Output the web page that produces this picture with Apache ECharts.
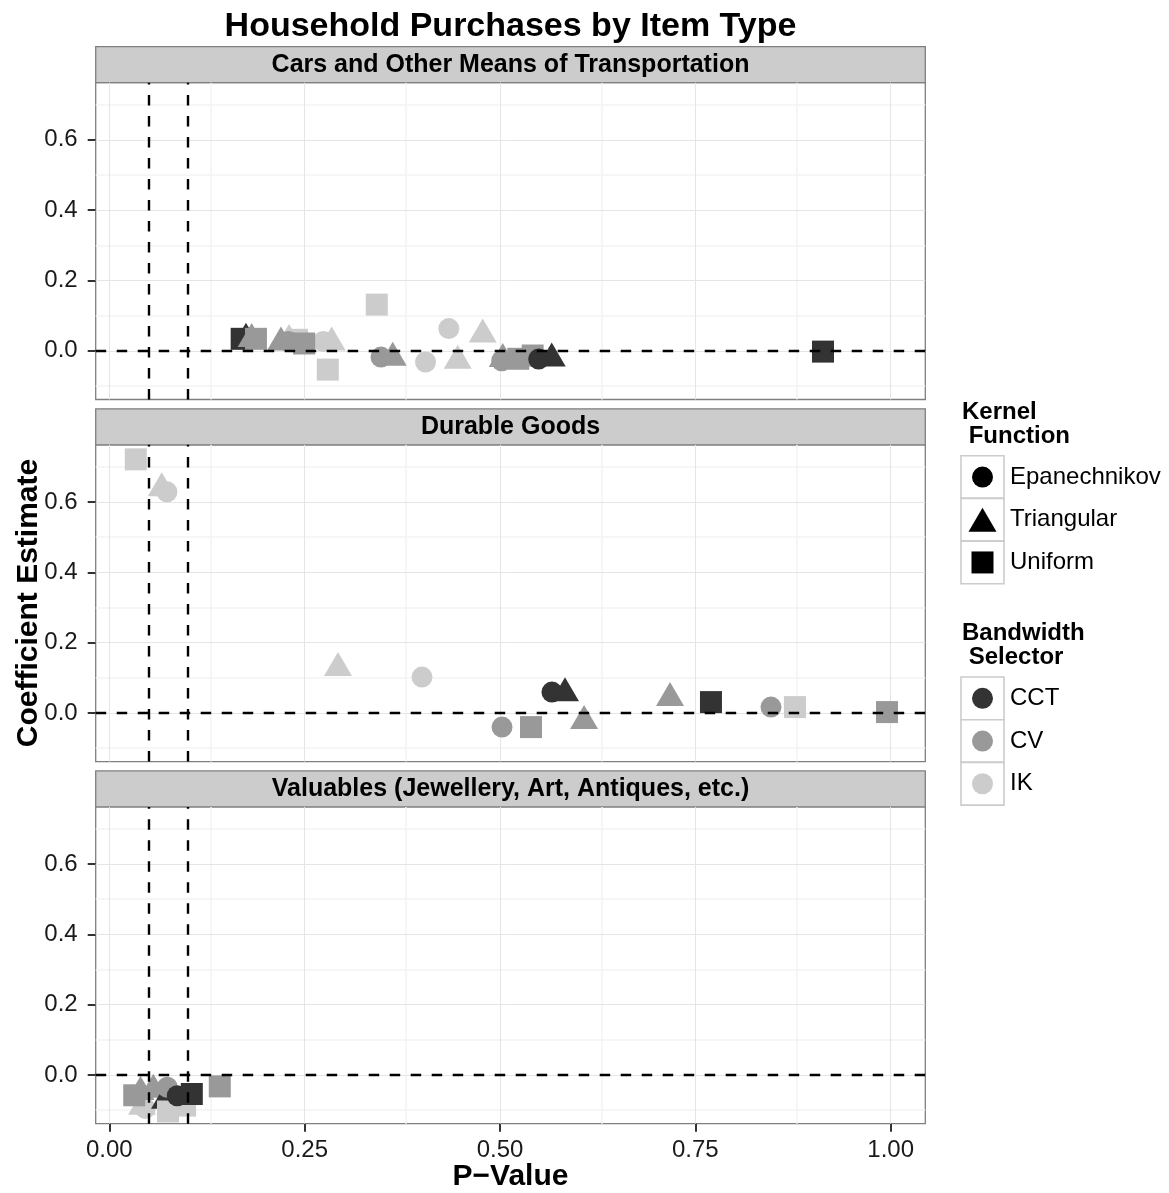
<!DOCTYPE html>
<html>
<head>
<meta charset="utf-8">
<title>Household Purchases by Item Type</title>
<script src="https://cdn.jsdelivr.net/npm/echarts@6/dist/echarts.min.js"></script>
<style>
  html, body { margin: 0; padding: 0; background: #ffffff; }
  #chart { width: 1169px; height: 1193px; }
</style>
</head>
<body>
<div id="chart"></div>
<script>
// ---- data -------------------------------------------------------------
const panelTitles = [
  'Cars and Other Means of Transportation',
  'Durable Goods',
  'Valuables (Jewellery, Art, Antiques, etc.)'
];

const xTickValues = [0, 0.25, 0.5, 0.75, 1];
const xTickLabels = ['0.00', '0.25', '0.50', '0.75', '1.00'];
const yTickValues = [0, 0.2, 0.4, 0.6];
const yTickLabels = ['0.0', '0.2', '0.4', '0.6'];

const kernelNames = ['Epanechnikov', 'Triangular', 'Uniform'];
const selectorNames = ['CCT', 'CV', 'IK'];

// significance thresholds (vertical) and zero effect (horizontal)
const pThresholds = [0.05, 0.1];
const zeroEffect = 0;

// Cars and Other Means of Transportation
const carsP      = [0.1749, 0.1694, 0.1711, 0.1822, 0.1877, 0.2300, 0.2197, 0.2402, 0.2291, 0.2739, 0.2846, 0.2494, 0.2796, 0.3423,
                    0.3477, 0.3627, 0.4047, 0.4459, 0.4345, 0.4779, 0.5035, 0.5022, 0.5234, 0.5418, 0.5495, 0.5662, 0.9134];
const carsCoef   = [0.0341, 0.0341, 0.0341, 0.0333, 0.0341, 0.0304, 0.0236, 0.0313, 0.0264, 0.0264, 0.0236, 0.0208, -0.0535, 0.1314,
                    -0.0179, -0.0199, -0.0318, -0.0284, 0.0631, 0.0463, -0.0236, -0.0284, -0.0227, -0.0134, -0.0236, -0.0219, -0.0023];
const carsKernel = ['T', 'U', 'E', 'T', 'U', 'T', 'T', 'U', 'E', 'E', 'T', 'U', 'U', 'U',
                    'E', 'T', 'E', 'T', 'E', 'T', 'T', 'E', 'U', 'U', 'E', 'T', 'U'];
const carsSel    = ['CCT', 'CCT', 'CCT', 'CV', 'CV', 'IK', 'CV', 'IK', 'CV', 'IK', 'IK', 'CV', 'IK', 'IK',
                    'CV', 'CV', 'IK', 'IK', 'IK', 'IK', 'CV', 'CV', 'CV', 'CV', 'CCT', 'CCT', 'CCT'];

// Durable Goods
const durableP      = [0.0339, 0.0671, 0.0738, 0.2927, 0.4002, 0.5026, 0.5397, 0.5665, 0.5832, 0.6076, 0.7176, 0.7700, 0.8468, 0.8775, 0.9953];
const durableCoef   = [0.7211, 0.6392, 0.6287, 0.1274, 0.1018, -0.0404, -0.0404, 0.0591, 0.0560, -0.0233, 0.0421, 0.0307, 0.0165, 0.0165, 0.0023];
const durableKernel = ['U', 'T', 'E', 'T', 'E', 'E', 'U', 'E', 'T', 'T', 'T', 'U', 'E', 'U', 'U'];
const durableSel    = ['IK', 'IK', 'IK', 'IK', 'IK', 'CV', 'CV', 'CCT', 'CCT', 'CV', 'CV', 'CCT', 'CV', 'IK', 'CV'];

// Valuables (Jewellery, Art, Antiques, etc.)
const valuablesP      = [0.0420, 0.0460, 0.0319, 0.0400, 0.0563, 0.0713, 0.0742, 0.0970, 0.0751, 0.0870, 0.1056, 0.1414];
const valuablesCoef   = [-0.0900, -0.0950, -0.0577, -0.0480, -0.0421, -0.0730, -0.0347, -0.0870, -0.1038, -0.0591, -0.0540, -0.0324];
const valuablesKernel = ['T', 'E', 'U', 'T', 'T', 'T', 'E', 'U', 'U', 'E', 'U', 'U'];
const valuablesSel    = ['IK', 'IK', 'CV', 'CV', 'CV', 'CCT', 'CV', 'IK', 'IK', 'CCT', 'CCT', 'CV'];

// ---- appearance -------------------------------------------------------
const xLimits = [-0.0174, 1.0443];
const yLimits = [-0.1385, 0.7625];
const selectorColor = { CCT: '#333333', CV: '#999999', IK: '#cccccc' };
const kernelCode = { E: 'Epanechnikov', T: 'Triangular', U: 'Uniform' };
const FONT = '"Liberation Sans", Arial, Helvetica, sans-serif';

const plotLeft = 95.7;
const plotWidth = 829.6;
const panelTop = [82.7, 444.8, 806.9];
const panelHeight = 316.8;
const stripHeight = 36;

const panels = [
  { p: carsP, c: carsCoef, k: carsKernel, s: carsSel },
  { p: durableP, c: durableCoef, k: durableKernel, s: durableSel },
  { p: valuablesP, c: valuablesCoef, k: valuablesKernel, s: valuablesSel }
];

function symbolFor(kernel) {
  if (kernel === 'Triangular') return { symbol: 'triangle', symbolSize: [28, 24], symbolOffset: [0, -4] };
  if (kernel === 'Uniform') return { symbol: 'rect', symbolSize: 22, symbolOffset: [0, 0] };
  return { symbol: 'circle', symbolSize: 21, symbolOffset: [0, 0] };
}

function pointItems(panel) {
  return panel.p.map((pv, i) => {
    const kernel = kernelCode[panel.k[i]];
    return Object.assign({
      value: [pv, panel.c[i]],
      itemStyle: { color: selectorColor[panel.s[i]], opacity: 1 }
    }, symbolFor(kernel));
  });
}

function gridLines() {
  const major = { color: '#e5e5e5', width: 1, type: 'solid' };
  const minor = { color: '#f3f3f3', width: 1.5, type: 'solid' };
  const items = [];
  [0.125, 0.375, 0.625, 0.875].forEach(v => items.push({ xAxis: v, lineStyle: minor }));
  [-0.1, 0.1, 0.3, 0.5, 0.7].forEach(v => items.push({ yAxis: v, lineStyle: minor }));
  xTickValues.forEach(v => items.push({ xAxis: v, lineStyle: major }));
  yTickValues.forEach(v => items.push({ yAxis: v, lineStyle: major }));
  return items;
}

function referenceLines() {
  const dashed = { color: '#000000', width: 2.4, type: [10.5, 10.5] };
  const items = [{ yAxis: zeroEffect, lineStyle: dashed }];
  pThresholds.forEach(v => items.push({ xAxis: v, lineStyle: dashed }));
  return items;
}

const grids = panelTop.map(t => ({
  left: plotLeft, top: t, width: plotWidth, height: panelHeight,
  show: true, backgroundColor: '#ffffff', borderColor: '#7f7f7f', borderWidth: 1.3,
  containLabel: false, outerBoundsMode: 'none'
}));

const xAxes = panelTop.map((_, i) => ({
  gridIndex: i, type: 'value', min: xLimits[0], max: xLimits[1], position: 'bottom',
  axisLine: { show: false, onZero: false }, splitLine: { show: false },
  axisTick: { show: i === 2, customValues: xTickValues, length: 8, lineStyle: { color: '#333333', width: 2 } },
  axisLabel: {
    show: i === 2, customValues: xTickValues, margin: 15,
    formatter: v => xTickLabels[xTickValues.indexOf(v)],
    fontSize: 24, color: '#1a1a1a', fontFamily: FONT
  }
}));

const yAxes = panelTop.map((_, i) => ({
  gridIndex: i, type: 'value', min: yLimits[0], max: yLimits[1], position: 'left',
  axisLine: { show: false, onZero: false }, splitLine: { show: false },
  axisTick: { show: true, customValues: yTickValues, length: 8, lineStyle: { color: '#333333', width: 2 } },
  axisLabel: {
    show: true, customValues: yTickValues, margin: 18,
    formatter: v => yTickLabels[yTickValues.indexOf(v)],
    fontSize: 24, color: '#1a1a1a', fontFamily: FONT
  }
}));

const series = [];
panels.forEach((panel, i) => {
  series.push({
    type: 'scatter', xAxisIndex: i, yAxisIndex: i, data: [], silent: true, z: 1,
    markLine: { silent: true, symbol: 'none', z: 1, animation: false, label: { show: false },
                emphasis: { disabled: true }, data: gridLines() }
  });
  series.push({
    type: 'scatter', xAxisIndex: i, yAxisIndex: i, z: 3, silent: true,
    itemStyle: { opacity: 1 },
    data: pointItems(panel), emphasis: { disabled: true }
  });
  series.push({
    type: 'scatter', xAxisIndex: i, yAxisIndex: i, data: [], silent: true, z: 5,
    markLine: { silent: true, symbol: 'none', z: 5, animation: false, label: { show: false },
                emphasis: { disabled: true }, data: referenceLines() }
  });
});

// ---- strips, titles and legend ---------------------------------------
const graphics = [];
panelTop.forEach((t, i) => {
  graphics.push({
    type: 'rect', silent: true,
    shape: { x: plotLeft, y: t - stripHeight, width: plotWidth, height: stripHeight },
    style: { fill: '#cccccc', stroke: '#7f7f7f', lineWidth: 1.3 }
  });
  graphics.push({
    type: 'text', silent: true, x: plotLeft + plotWidth / 2, y: t - stripHeight / 2,
    style: { text: panelTitles[i], fill: '#000000', font: 'bold 25px ' + FONT, textAlign: 'center', textVerticalAlign: 'middle' }
  });
});

graphics.push({
  type: 'text', silent: true, x: plotLeft + plotWidth / 2, y: 27,
  style: { text: 'Household Purchases by Item Type', fill: '#000000', font: 'bold 34px ' + FONT, textAlign: 'center', textVerticalAlign: 'middle' }
});
graphics.push({
  type: 'text', silent: true, x: plotLeft + plotWidth / 2, y: 1177,
  style: { text: 'P\u2212Value', fill: '#000000', font: 'bold 30px ' + FONT, textAlign: 'center', textVerticalAlign: 'middle' }
});
graphics.push({
  type: 'text', silent: true, x: 29, y: 603, rotation: Math.PI / 2,
  style: { text: 'Coefficient Estimate', fill: '#000000', font: 'bold 30px ' + FONT, textAlign: 'center', textVerticalAlign: 'middle' }
});

function legendBlock(title, titleY, boxTop, labels, drawKey) {
  graphics.push({
    type: 'text', silent: true, x: 962, y: titleY,
    style: { text: title, fill: '#000000', font: 'bold 24px ' + FONT, lineHeight: 24, textAlign: 'left', textVerticalAlign: 'top' }
  });
  const rowH = 42.7;
  labels.forEach((label, j) => {
    const y0 = boxTop + j * rowH;
    graphics.push({
      type: 'rect', silent: true,
      shape: { x: 961, y: y0, width: 43, height: rowH },
      style: { fill: '#ffffff', stroke: '#cccccc', lineWidth: 1.6 }
    });
    graphics.push(drawKey(j, 982.5, y0 + rowH / 2));
    graphics.push({
      type: 'text', silent: true, x: 1010, y: y0 + rowH / 2,
      style: { text: label, fill: '#000000', font: '24px ' + FONT, textAlign: 'left', textVerticalAlign: 'middle' }
    });
  });
}

legendBlock('Kernel\n Function', 400, 455.7, kernelNames, (j, cx, cy) => {
  if (j === 0) return { type: 'circle', silent: true, shape: { cx: cx, cy: cy, r: 10.5 }, style: { fill: '#000000' } };
  if (j === 1) return { type: 'polygon', silent: true, shape: { points: [[cx, cy - 12], [cx + 14, cy + 12], [cx - 14, cy + 12]] }, style: { fill: '#000000' } };
  return { type: 'rect', silent: true, shape: { x: cx - 11, y: cy - 11, width: 22, height: 22 }, style: { fill: '#000000' } };
});

legendBlock('Bandwidth\n Selector', 621, 677, selectorNames, (j, cx, cy) => ({
  type: 'circle', silent: true, shape: { cx: cx, cy: cy, r: 10.5 }, style: { fill: selectorColor[selectorNames[j]] }
}));

const chart = echarts.init(document.getElementById('chart'), null, { renderer: 'canvas' });
chart.setOption({
  animation: false,
  backgroundColor: '#ffffff',
  grid: grids,
  xAxis: xAxes,
  yAxis: yAxes,
  series: series,
  graphic: { elements: graphics }
});
</script>
</body>
</html>
